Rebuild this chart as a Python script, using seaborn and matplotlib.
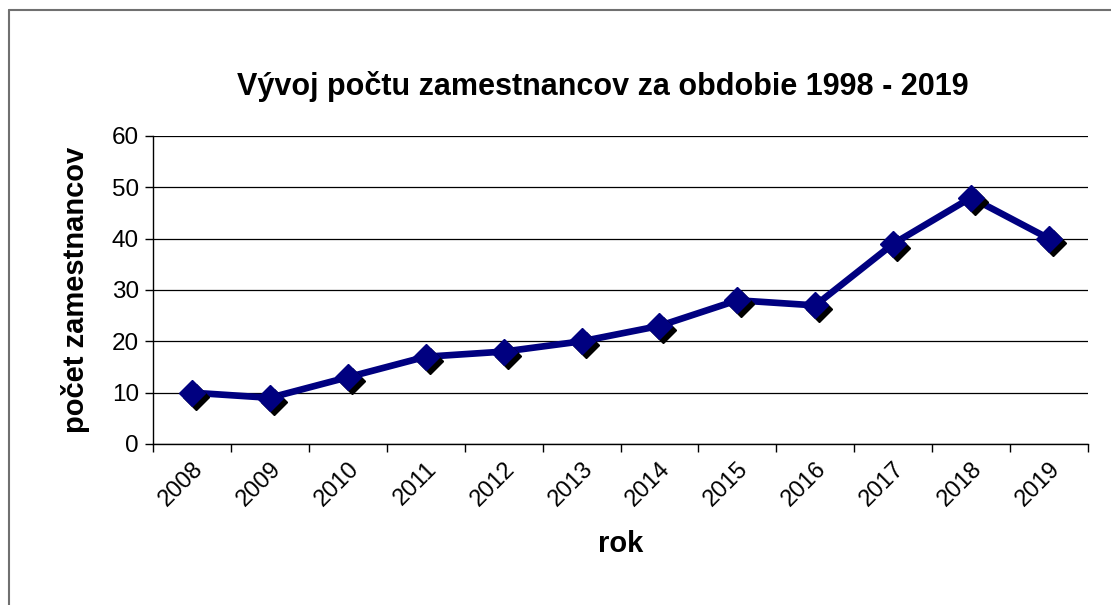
import matplotlib
matplotlib.use("Agg")
import matplotlib.pyplot as plt
import matplotlib.transforms as mtransforms
from matplotlib.lines import Line2D
import seaborn as sns
import pandas as pd

# data
years = ["2008", "2009", "2010", "2011", "2012", "2013",
         "2014", "2015", "2016", "2017", "2018", "2019"]
employees = [10, 9, 13, 17, 18, 20, 23, 28, 27, 39, 48, 40]
y_ticks = [0, 10, 20, 30, 40, 50, 60]

df = pd.DataFrame({"pos": range(len(years)), "rok": years, "pocet": employees})

sns.set_style("white")
plt.rcParams["font.family"] = ["Liberation Sans", "DejaVu Sans"]
plt.rcParams["text.color"] = "black"
plt.rcParams["axes.labelcolor"] = "black"
plt.rcParams["xtick.color"] = "black"
plt.rcParams["ytick.color"] = "black"

fig = plt.figure(figsize=(11.11, 6.05), dpi=100)
ax = fig.add_axes([153 / 1111, 1 - 444 / 605, (1088 - 153) / 1111, (444 - 136) / 605])

navy = "#000080"

# line
sns.lineplot(data=df, x="pos", y="pocet", ax=ax, color=navy, linewidth=4.8,
             zorder=3, legend=False)
# marker shadow (offset down-right)
shadow = mtransforms.offset_copy(ax.transData, fig=fig, x=4, y=-4, units="dots")
ax.plot(df["pos"], df["pocet"], linestyle="none", marker="D", markersize=13,
        color="black", transform=shadow, zorder=4)
# markers
ax.plot(df["pos"], df["pocet"], linestyle="none", marker="D", markersize=13,
        color=navy, zorder=5)

ax.set_xlim(-0.5, len(years) - 0.5)
ax.set_ylim(0, 60)
ax.set_yticks(y_ticks)
ax.yaxis.grid(True, color="black", linewidth=0.9)
ax.set_axisbelow(True)

# tick marks on category boundaries, labels on category centers
ax.set_xticks([i - 0.5 for i in range(len(years) + 1)])
ax.set_xticklabels([])
ax.set_xticks(range(len(years)), minor=True)
ax.set_xticklabels(years, minor=True, rotation=45, ha="right", va="top",
                   rotation_mode="anchor", fontsize=17)
ax.tick_params(axis="x", which="minor", length=0, pad=10)
ax.tick_params(axis="x", which="major", direction="out", length=6, width=1,
               color="black", bottom=True)
ax.tick_params(axis="y", direction="out", length=6, width=1, color="black",
               left=True, labelsize=17.5, pad=4)

for s in ["top", "right"]:
    ax.spines[s].set_visible(False)
for s in ["left", "bottom"]:
    ax.spines[s].set_color("black")
    ax.spines[s].set_linewidth(1.0)

ax.set_xlabel("rok", fontsize=21, fontweight="bold", labelpad=14)
ax.set_ylabel("počet zamestnancov", fontsize=21, fontweight="bold", labelpad=16)
fig.text(0.5425, 1 - 86 / 605, "Vývoj počtu zamestnancov za obdobie 1998 - 2019",
         ha="center", va="center", fontsize=22, fontweight="bold")

# chart area border (left and top visible in reference)
fig.add_artist(Line2D([9 / 1111, 9 / 1111], [0, 1 - 10 / 605],
                      transform=fig.transFigure, color="#707070", linewidth=1.5))
fig.add_artist(Line2D([9 / 1111, 1], [1 - 10 / 605, 1 - 10 / 605],
                      transform=fig.transFigure, color="#707070", linewidth=1.5))

fig.savefig("out.png", dpi=100, facecolor="white")
